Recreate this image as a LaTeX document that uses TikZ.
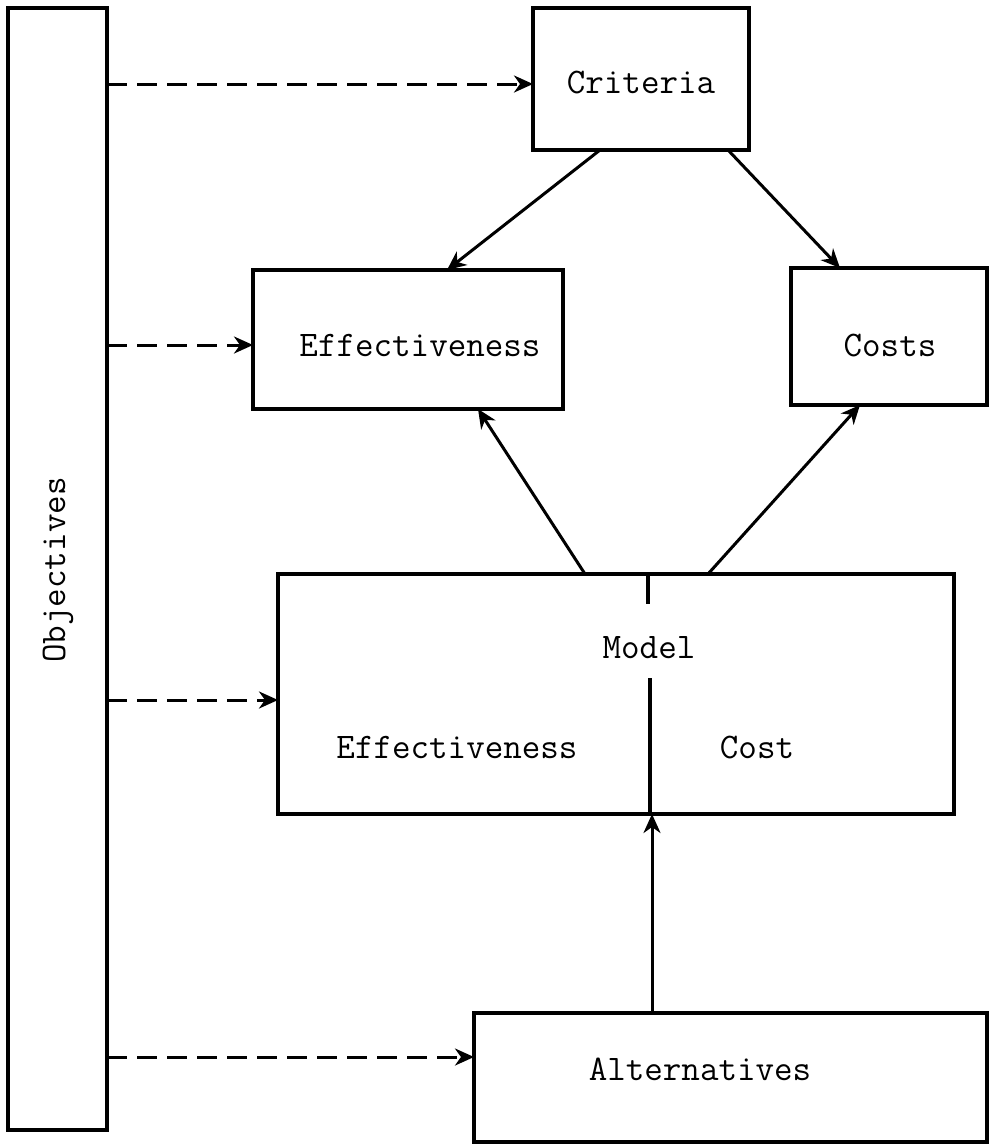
\documentclass[tikz,border=0pt]{standalone}
\usetikzlibrary{arrows.meta,calc}
\begin{document}
\begin{tikzpicture}[x=1pt,y=-1pt,
  box/.style={draw,line width=3.4pt,inner sep=0pt,outer sep=0pt},
  lbl/.style={font=\fontsize{36}{36}\selectfont\ttfamily},
  arr/.style={line width=3pt,-{Stealth[length=19pt,width=17pt,inset=6pt]}},
  darr/.style={arr,dash pattern=on 20pt off 10pt}]
\useasboundingbox (0,0) rectangle (989,1144);
% boxes
\node[box,minimum width=99pt,minimum height=1122pt] (objbox) at (57.5,569) {};
\node[lbl,rotate=90] (obj) at (58,570) {Objectives};
\node[box,minimum width=216pt,minimum height=142pt] (crit) at (641,79) {};
\node[lbl] at (641,82) {Criteria};
\node[box,minimum width=310pt,minimum height=139pt] (eff) at (408,339.5) {};
\node[lbl] at (420,345) {Effectiveness};
\node[box,minimum width=196pt,minimum height=137pt] (costs) at (889,336.5) {};
\node[lbl] at (890,345) {Costs};
\node[box,minimum width=676pt,minimum height=240pt] (model) at (616,694) {};
\node[lbl] (mlbl) at (649,648) {Model};
\node[lbl] at (457,747) {Effectiveness};
\node[lbl] at (757,747) {Cost};
\draw[line width=3.4pt] ($(model.north)+(32,0)$) -- ++(0,30);
\draw[line width=3.4pt] ($(model.south)+(34,0)$) -- ++(0,-136);
\node[box,minimum width=513pt,minimum height=129pt] (alt) at (730.5,1077.5) {};
\node[lbl] at (700,1069) {Alternatives};
% dashed arrows
\draw[darr] ($(objbox.north east)+(0,76)$) -- (crit.west |- 0,84);
\draw[darr] ($(objbox.north east)+(0,337)$) -- (eff.west |- 0,345);
\draw[darr] ($(objbox.north east)+(0,692)$) -- (model.west |- 0,700);
\draw[darr] ($(objbox.north east)+(0,1049)$) -- (alt.west |- 0,1057);
% solid arrows
\draw[arr] ($(crit.south)+(-41,0)$) -- ($(eff.north)+(39,0)$);
\draw[arr] ($(crit.south)+(87,0)$) -- ($(costs.north)+(-49,0)$);
\draw[arr] ($(model.north)+(-31,0)$) -- ($(eff.south)+(70,0)$);
\draw[arr] ($(model.north)+(92,0)$) -- ($(costs.south)+(-29,0)$);
\draw[arr] ($(alt.north)+(-78.5,0)$) -- (model.south -| 652,0);
\end{tikzpicture}
\end{document}
